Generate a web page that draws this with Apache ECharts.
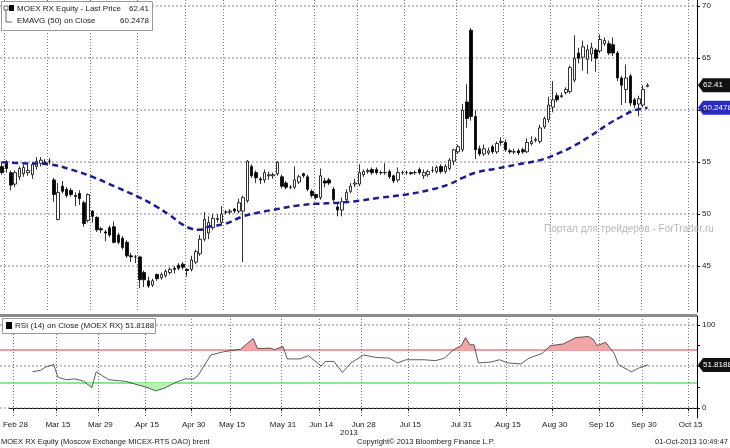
<!DOCTYPE html>
<html><head><meta charset="utf-8">
<script src="https://cdn.jsdelivr.net/npm/echarts@6/dist/echarts.min.js"></script>
<style>html,body{margin:0;padding:0;background:#fff}#c{width:730px;height:448px}</style>
</head><body><div id="c"></div>
<script>
const openP=[54.6,55.0,54.0,52.9,53.6,53.9,54.0,53.8,54.6,54.9,55.0,55.1,53.3,49.5,52.7,52.4,52.3,51.8,52.0,51.1,49.4,50.3,49.7,48.6,48.3,48.7,48.8,48.0,47.7,47.3,46.0,45.9,45.9,44.4,43.6,43.2,44.2,43.9,44.1,44.4,44.8,45.1,45.2,44.7,44.7,45.4,46.2,47.6,48.2,48.7,49.5,49.2,50.2,50.2,50.5,50.3,50.3,51.3,54.6,54.0,53.4,53.3,53.7,53.7,53.9,53.6,53.0,52.6,52.6,53.1,53.9,53.6,52.2,51.9,51.6,53.2,53.3,52.4,50.7,50.4,51.4,52.2,52.9,52.9,53.8,54.1,54.3,54.3,54.0,54.0,54.1,53.7,53.3,54.0,54.0,54.0,54.0,54.3,53.7,53.8,54.2,54.1,54.6,54.1,54.4,55.1,56.0,56.2,60.8,67.7,59.4,56.3,55.8,55.9,56.5,56.0,56.9,56.9,56.1,56.0,56.1,56.2,56.0,56.8,57.1,57.0,58.4,59.1,60.3,61.4,61.3,61.7,61.8,62.9,65.5,65.1,64.9,65.4,65.8,65.7,66.4,66.4,66.3,65.5,63.1,62.0,63.3,61.0,60.6,60.5,62.3];
const closeP=[54.0,54.4,52.8,54.0,54.4,54.5,54.2,54.8,55.1,55.2,55.0,55.1,51.9,52.1,52.2,51.8,51.9,51.7,51.5,49.1,51.9,49.8,48.5,48.5,48.2,48.0,47.3,47.3,46.8,46.0,45.9,45.9,43.7,43.7,43.1,43.6,43.8,44.2,44.5,44.7,44.7,44.8,44.9,44.6,45.6,46.4,47.6,49.5,49.2,49.6,49.6,50.0,50.2,50.3,50.3,51.1,51.6,55.1,53.7,53.5,53.3,54.0,53.8,53.8,55.0,52.7,52.6,52.6,53.3,53.6,53.7,52.4,51.8,51.6,53.7,53.0,53.0,51.4,50.4,51.2,52.1,52.7,53.0,54.0,54.1,54.2,54.0,54.0,54.0,54.0,53.6,53.2,54.0,54.0,54.0,53.9,54.0,54.0,54.0,54.1,54.2,54.5,54.1,54.6,55.2,56.2,56.5,60.0,59.2,59.4,56.2,55.8,56.3,56.1,56.0,56.8,57.0,56.2,56.0,56.0,55.9,56.0,56.9,57.0,57.2,58.3,59.2,60.5,61.0,61.0,61.4,62.0,64.1,65.0,65.0,66.1,65.8,66.0,65.0,66.8,66.7,65.5,65.5,63.1,62.4,63.1,60.7,60.5,61.1,62.0,62.41];
const lowP=[53.8,54.0,52.3,52.6,53.3,53.6,53.7,53.4,54.3,54.6,54.8,54.8,51.2,49.4,52.0,51.6,51.7,50.8,50.9,48.8,49.2,49.2,48.3,48.2,47.4,47.8,47.2,47.1,46.6,45.8,45.4,45.3,42.9,43.0,42.9,43.0,43.6,43.7,43.9,44.2,44.3,44.6,44.7,44.0,44.5,45.2,46.0,47.4,47.6,48.5,49.2,49.0,50.0,50.0,50.1,50.1,45.4,51.1,53.5,53.0,52.9,53.0,53.3,53.4,53.7,52.5,52.4,52.4,52.4,52.9,53.5,52.2,51.6,51.4,51.4,52.6,52.8,51.2,49.8,49.8,51.2,52.0,52.6,52.7,53.6,53.9,53.8,53.8,53.8,53.8,53.4,53.0,53.1,53.8,53.8,53.8,53.8,53.8,53.4,53.6,54.0,53.9,53.9,53.9,54.2,54.7,55.8,56.0,58.3,59.0,55.3,55.6,55.6,55.7,55.8,55.8,56.6,56.0,55.8,55.8,55.7,55.8,55.9,56.6,56.9,56.8,58.2,58.8,59.8,60.8,61.2,61.5,61.6,62.7,64.5,63.8,63.5,64.7,63.7,65.5,66.2,65.3,65.2,62.8,60.5,60.7,60.4,60.2,59.4,60.3,62.2];
const highP=[55.0,55.2,54.2,54.2,54.6,54.8,54.9,55.0,55.5,55.5,55.3,55.4,53.5,53.0,53.2,52.6,52.5,52.1,52.3,51.3,52.0,50.4,49.8,48.8,48.5,48.9,49.3,48.2,47.9,47.5,46.3,46.1,46.0,44.6,44.0,43.8,44.3,44.4,44.7,44.9,45.0,45.3,45.4,44.8,46.0,46.6,48.0,50.2,49.8,50.0,50.0,50.8,50.4,50.5,50.6,51.5,51.8,55.2,54.8,54.2,53.6,54.3,54.1,54.0,55.1,53.8,53.2,52.8,54.6,53.8,54.0,53.8,52.4,52.0,54.4,53.5,53.5,52.6,51.0,51.6,52.4,53.0,53.4,54.8,54.3,54.4,54.5,54.5,54.2,54.9,54.3,53.8,54.5,54.2,54.2,54.1,54.2,54.5,54.3,54.3,54.6,54.7,54.8,54.8,55.4,56.3,56.7,60.6,62.5,67.9,60.0,56.6,56.7,56.4,56.7,57.0,57.4,57.2,56.3,56.3,56.3,56.4,57.3,57.5,57.4,58.6,59.4,61.3,62.8,61.7,61.7,62.2,64.3,67.2,66.0,66.7,66.3,66.5,66.0,67.3,67.0,66.7,67.0,65.7,63.3,64.4,63.5,61.2,61.4,62.4,62.6];
const emaIdx=[0,5,11,16,21,26,32,36,39,42,44,46,48,52,56,60,64,68,73,78,83,88,94,100,104,107,110,115,120,125,129,133,137,141,144,147,150];
const emaVal=[55.0,54.9,54.8,54.3,53.6,52.7,51.6,50.7,49.9,49.0,48.6,48.5,48.8,49.1,49.8,50.2,50.5,50.8,51.0,51.1,51.3,51.6,51.9,52.4,52.9,53.5,54.0,54.4,54.8,55.2,55.8,56.6,57.6,58.7,59.4,60.0,60.2478];
const rsiIdx=[5,7,8,10,11,13,15,17,19,20,23,27,30,32,34,36,39,41,43,44,47,50,54,57,58,61,62,64,65,68,70,73,74,76,78,80,83,86,89,91,93,97,100,102,104,106,107,108,109,110,113,115,117,120,122,125,127,130,133,136,137,138,140,142,143,146,148,150];
const rsiVal=[43.5,45.4,49,52.3,37,34,35,32.4,24.4,43.5,34,32,27.5,24.8,20.6,23.7,31.3,35,35,39,63.7,67.6,70.6,83.6,71.4,72,70.2,74,59,59,63,50.4,56,56,42.7,54.2,63.7,60.7,60,54.2,58,58,57,60,69.5,75,84.7,76,76,54.2,55.3,58,54.2,53,60,65.6,75,77,84.7,86,82.8,75,79,65.6,52.3,43.5,48.5,51.8188];
const labelDates=['Feb 28','Mar 15','Mar 29','Apr 15','Apr 30','May 15','May 31','Jun 14','Jun 28','Jul 15','Jul 31','Aug 15','Aug 30','Sep 16','Sep 30','Oct 15'];
const priceTicks=[45,50,55,60,65,70];
const rsiTicks=[0,100];

const M=['Jan','Feb','Mar','Apr','May','Jun','Jul','Aug','Sep','Oct','Nov','Dec'];
const holidays=['2-8','4-1','4-9','5-12'];
const cats=[];
for(let d=new Date(2013,1,27);d<=new Date(2013,9,16);d.setDate(d.getDate()+1)){
  const w=d.getDay(); if(w===0||w===6) continue;
  if(holidays.includes(d.getMonth()+'-'+d.getDate())) continue;
  cats.push(M[d.getMonth()]+' '+String(d.getDate()).padStart(2,'0'));
}
const isLab=(i)=>labelDates.includes(cats[i]);
const candles=openP.map((o,i)=>[o,closeP[i],lowP[i],highP[i]]);
const ema=emaIdx.map((x,i)=>[x,emaVal[i]]);
const rsi=rsiIdx.map((x,i)=>[x,rsiVal[i]]);
const F='Liberation Sans';
const dotted={show:true,interval:(i)=>isLab(i),lineStyle:{color:'#777',type:[1,2],width:1}};
const chart=echarts.init(document.getElementById('c'));
chart.setOption({
  animation:false,
  grid:[{left:0,right:33,top:0,height:312},{left:0,right:33,top:316,height:102}],
  xAxis:[
    {type:'category',gridIndex:0,data:cats,boundaryGap:true,axisLine:{show:false},axisTick:{show:false},axisLabel:{show:false},splitLine:dotted},
    {type:'category',gridIndex:1,data:cats,boundaryGap:true,axisLine:{show:true,lineStyle:{color:'#000'}},
     axisTick:{show:true,interval:(i)=>isLab(i),length:3,lineStyle:{color:'#000'}},
     axisLabel:{interval:(i)=>isLab(i),fontFamily:F,fontSize:8,color:'#222',margin:3,formatter:v=>v.replace(' 0',' ')},splitLine:dotted}
  ],
  yAxis:[
    {type:'value',gridIndex:0,position:'right',min:40.6,max:70.6,axisLine:{show:true,lineStyle:{color:'#000'}},
     axisTick:{show:true,length:3,customValues:priceTicks,lineStyle:{color:'#000'}},splitLine:{show:false},
     axisLabel:{customValues:priceTicks,fontFamily:F,fontSize:8,color:'#222',margin:5}},
    {type:'value',gridIndex:1,position:'right',min:-12,max:110.6,axisLine:{show:true,lineStyle:{color:'#000'}},
     axisTick:{show:true,length:3,customValues:[0,25,50,75,100],lineStyle:{color:'#000'}},splitLine:{show:false},
     axisLabel:{customValues:rsiTicks,fontFamily:F,fontSize:8,color:'#222',margin:5}}
  ],
  visualMap:[{type:'piecewise',show:false,seriesIndex:2,dimension:1,
    pieces:[{gt:70,color:'#f4a6a6'},{gte:30,lte:70,color:'rgba(0,0,0,0)'},{lt:30,color:'#b6f2b0'}]}],
  series:[
    {type:'candlestick',xAxisIndex:0,yAxisIndex:0,data:candles,barWidth:3,z:3,
     itemStyle:{color:'#fff',color0:'#000',borderColor:'#000',borderColor0:'#000',borderWidth:0.8}},
    {type:'line',xAxisIndex:0,yAxisIndex:0,data:ema,showSymbol:false,smooth:0.4,
     lineStyle:{color:'#1c1c96',width:2.5,type:[6,4]},z:5},
    {type:'line',xAxisIndex:1,yAxisIndex:1,data:rsi,showSymbol:false,lineStyle:{width:0},z:2,
     areaStyle:{origin:50,opacity:1}},
    {type:'line',xAxisIndex:1,yAxisIndex:1,data:rsi,showSymbol:false,lineStyle:{color:'#333',width:0.8},z:5}
  ]
});
const py=(ax,v)=>chart.convertToPixel({yAxisIndex:ax},v);
const hline=(ax,v,c,dash)=>{const y=Math.round(py(ax,v));return {type:'line',z:1,shape:{x1:0,y1:y,x2:697,y2:y},style:{stroke:c,lineWidth:1,lineDash:dash||null}};};
const yP=py(0,closeP[closeP.length-1]);
const yE=py(0,emaVal[emaVal.length-1]);
const yR=py(1,rsiVal[rsiVal.length-1]);
const tag=(y,txt,bg)=>({type:'group',z:100,children:[
  {type:'polygon',shape:{points:[[698,y],[703,y-7],[730,y-7],[730,y+7],[703,y+7]]},style:{fill:bg}},
  {type:'text',x:703,y:y,style:{text:txt,fill:'#fff',font:'8px '+F,textVerticalAlign:'middle'}}]});
const t=(x,y,s,opt)=>({type:'text',z:101,x,y,style:Object.assign({text:s,fill:'#222',font:'8px '+F},opt||{})});
const R=(x,y,w,h,st)=>({type:'rect',z:100,shape:{x,y,width:w,height:h},style:st});
chart.setOption({graphic:[
  ...priceTicks.map(v=>hline(0,v,'#888',[2,2])),
  hline(1,0,'#888',[2,2]),hline(1,50,'#888',[2,2]),hline(1,100,'#888',[2,2]),
  hline(1,70,'#d04040'),hline(1,30,'#22cc22'),
  R(0,314,697,3,{fill:'#8a8a8a'}),
  R(1.5,1.5,151,29,{fill:'#fff',stroke:'#999',lineWidth:1}),
  R(9,5,5,6,{fill:'#000'}),
  R(4,6,4,4,{fill:'none',stroke:'#444',lineWidth:0.8}),
  {type:'polyline',z:101,shape:{points:[[6,10],[6,22],[12,22]]},style:{stroke:'#444',fill:'none',lineWidth:0.8}},
  t(17,5,'MOEX RX Equity - Last Price'),t(149,5,'62.41',{textAlign:'right'}),
  t(17,17,'EMAVG (50) on Close'),t(149,17,'60.2478',{textAlign:'right'}),
  R(2.5,318.5,153,15,{fill:'#fff',stroke:'#999',lineWidth:1}),
  R(6,322,6,7,{fill:'#000'}),
  t(15,322,'RSI (14) on Close (MOEX RX) 51.8188'),
  tag(yP,'62.41','#111'),tag(yE,'60.2478','#2b2bc8'),tag(yR,'51.8188','#111'),
  t(544,224,'Портал для трейдеров - ForTrader.ru',{fill:'#b8b8b8',font:'10px '+F}),
  t(340,429,'2013'),
  t(1,438,'MOEX RX Equity (Moscow Exchange MICEX-RTS OAO) brent',{font:'7.5px '+F}),
  t(357,438,'Copyright© 2013 Bloomberg Finance L.P.',{font:'7.5px '+F}),
  t(728,438,'01-Oct-2013 10:49:47',{font:'7.5px '+F,textAlign:'right'})
]});
</script></body></html>
